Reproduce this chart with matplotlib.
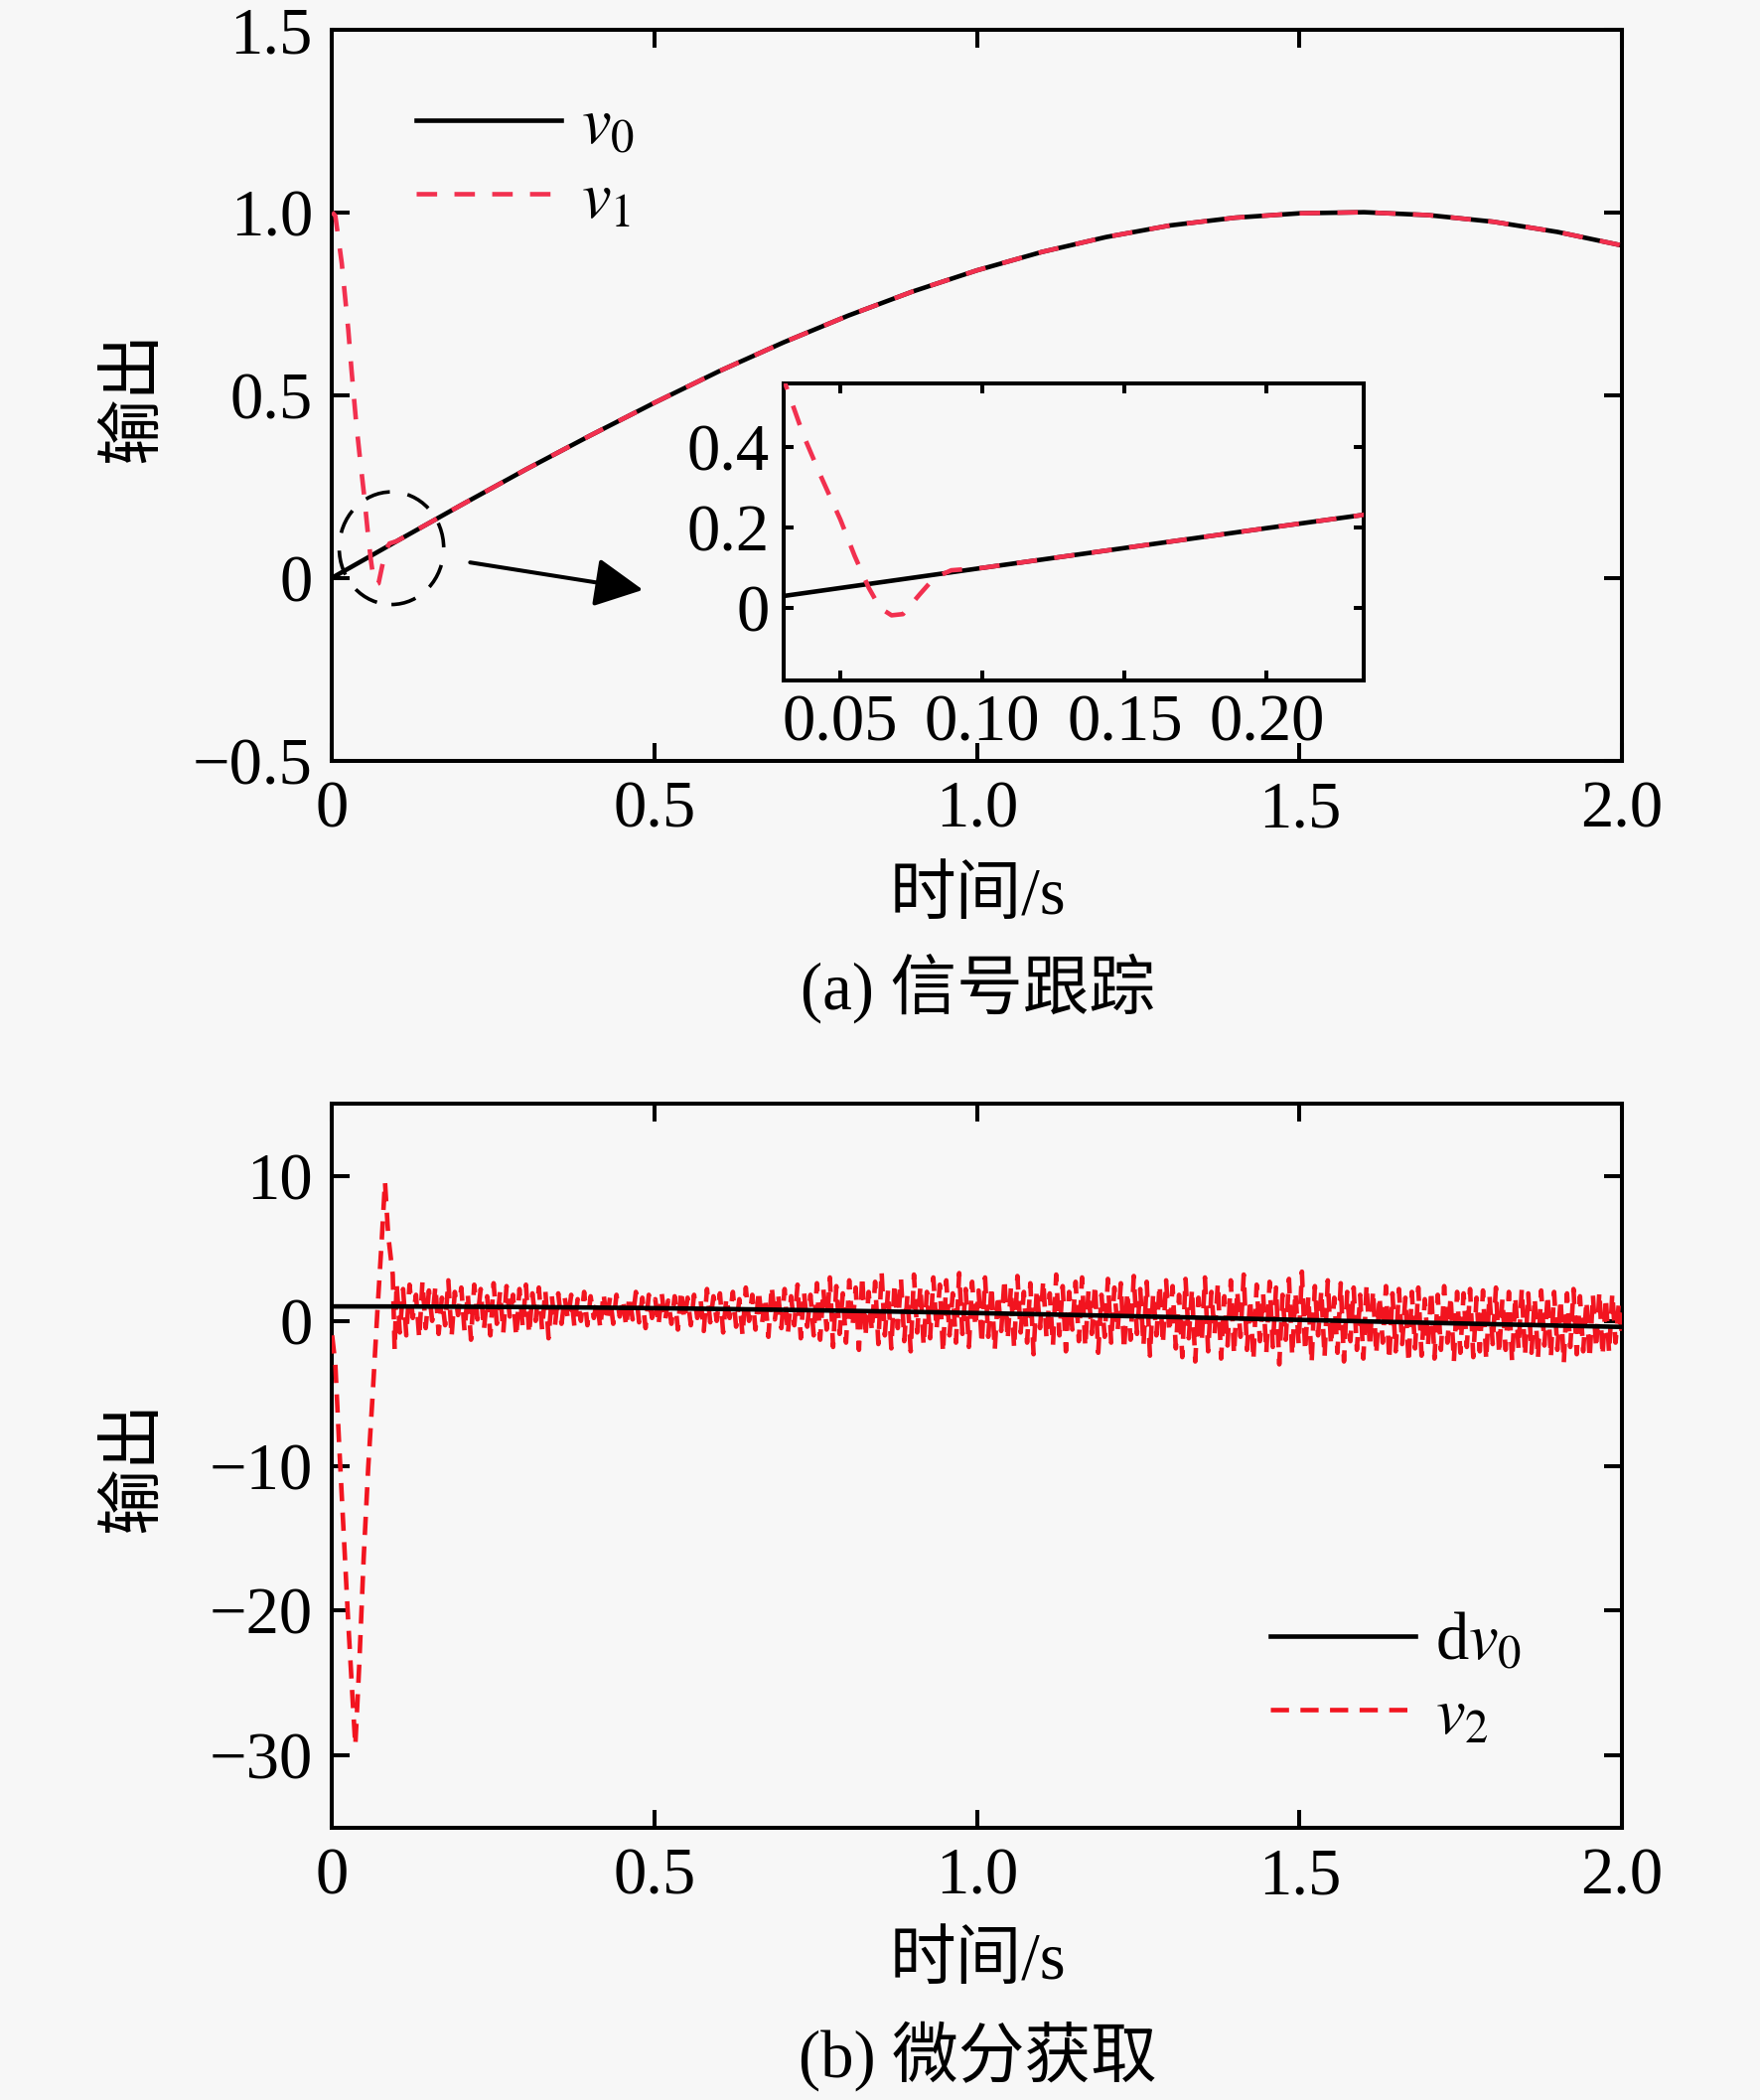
import numpy as np
import matplotlib.pyplot as plt
from matplotlib.patches import Ellipse

plt.rcParams['font.family'] = ['Liberation Serif', 'Noto Sans CJK SC']
plt.rcParams['mathtext.fontset'] = 'stix'
plt.rcParams['axes.unicode_minus'] = True

# ---- 数据 ----
t_ref = [0.0, 0.1, 0.2, 0.3, 0.4, 0.5, 0.6, 0.7, 0.8, 0.9, 1.0,
         1.1, 1.2, 1.3, 1.4, 1.5, 1.6, 1.7, 1.8, 1.9, 2.0]
v0 = [0.0, 0.10, 0.199, 0.296, 0.389, 0.479, 0.565, 0.644, 0.717, 0.783, 0.841,
      0.891, 0.932, 0.964, 0.985, 0.997, 1.0, 0.992, 0.974, 0.946, 0.909]
dv0 = [1.0, 0.995, 0.98, 0.955, 0.921, 0.878, 0.825, 0.765, 0.697, 0.622, 0.540,
       0.454, 0.362, 0.267, 0.170, 0.071, -0.029, -0.129, -0.227, -0.323, -0.416]

# v1 初始跟踪段, 0.1 s 之后与 v0 重合
t_v1_start = [0.0, 0.005, 0.015, 0.025, 0.03, 0.037, 0.043, 0.05, 0.055, 0.06,
              0.064, 0.068, 0.072, 0.078, 0.083, 0.089]
v1_start = [1.0, 0.99, 0.86, 0.68, 0.57, 0.43, 0.33, 0.22, 0.13, 0.05,
            0.0, -0.018, -0.015, 0.035, 0.075, 0.094]

# v2 初始段
t_v2_start = [0.0, 0.005, 0.011, 0.018, 0.025, 0.032, 0.036, 0.042, 0.049, 0.056,
              0.063, 0.07, 0.077, 0.082, 0.087, 0.094, 0.097]
v2_start = [-1.0, -3.0, -8.6, -14.7, -20.8, -26.3, -29.3, -23.8, -16.3, -10.1,
            -5.0, 0.5, 5.6, 9.6, 5.9, 3.2, -2.0]
# v2 噪声段 (0.1 s ~ 2.0 s)
v2_noise = [
    2.6, -0.8, 2.2, -1.0, 2.5, 0.2, 1.8, -1.2, 2.7, -0.5, 2.1, 0.0, 2.4, -0.9, 1.6, -0.3,
    2.8, -1.1, 2.0, 0.4, 2.3, -0.7, 1.9, -1.3, 2.5, 0.1, 2.2, -0.6, 1.7, -1.0, 2.6, -0.2,
    2.0, -0.8, 2.4, 0.3, 1.8, -1.1, 2.2, -0.4, 2.5, -0.9, 1.9, 0.0, 2.3, -0.6, 2.1, -1.2,
    1.7, -0.3,
    1.9, -0.2, 1.6, 0.1, 1.8, -0.4, 1.5, 0.0, 2.0, -0.3, 1.7, 0.2, 1.4, -0.5, 1.9, 0.0,
    1.6, -0.2, 1.8, 0.3, 1.5, -0.4, 1.7, 0.1, 2.0, -0.1, 1.6, -0.5, 1.8, 0.2, 1.5, -0.3,
    1.9, 0.0, 1.4, -0.2, 1.7, -0.6, 2.1, 0.1, 1.6, -0.3, 1.8, 0.2, 1.5, -0.7, 2.2, -0.1,
    1.7, 0.0, 1.9, -0.8, 1.6, 0.2, 2.0, -0.4, 1.5, -1.0, 2.3, 0.0, 1.8, -0.6, 2.1, -0.2,
    1.6, -1.1, 2.4, 0.1, 1.9, -0.5, 2.2, -0.9, 1.7, -0.3, 2.5, -1.2, 2.0, -0.4, 1.8, -1.0,
    2.6, -1.3, 2.2, -0.6, 3.0, -1.8, 2.4, -0.9, 1.9, -1.5, 2.8, -0.4, 2.3, -2.0, 3.1, -1.1,
    2.0, -0.7, 2.7, -1.6, 3.4, -1.0, 2.1, -1.9, 2.6, -0.5, 2.9, -1.4, 1.8, -2.1, 3.2, -0.8,
    2.4, -1.7, 2.0, -1.2, 3.0, -0.6, 2.5, -2.2, 2.8, -1.0, 1.9, -1.5, 3.3, -0.9, 2.2, -1.8,
    2.7, -0.4, 2.1, -1.6, 3.0, -1.1, 2.4, -2.0, 1.8, -0.7, 2.9, -1.3, 2.3, -1.9, 3.1, -0.8,
    2.0, -1.5, 2.6, -2.3, 2.2, -0.5, 2.8, -1.2, 1.9, -1.7, 3.2, -1.0, 2.4, -2.1, 2.0, -0.6,
    2.7, -1.4, 3.0, -1.8, 2.1, -0.9, 2.5, -2.2, 1.8, -1.1, 2.9, -1.5, 2.3, -0.7, 2.6, -2.0,
    2.0, -1.3, 3.1, -0.9, 2.2, -1.7, 2.7, -2.4, 1.9, -1.0, 2.5, -1.6, 2.8, -0.8,
    2.4, -1.9, 1.8, -2.5, 2.9, -1.2, 2.2, -2.8, 1.6, -1.5, 3.0, -2.1, 2.0, -0.9, 2.6, -2.6,
    1.7, -1.7, 2.8, -2.3, 2.1, -1.1, 3.2, -2.0, 1.5, -2.7, 2.5, -1.4, 1.9, -2.2, 2.7, -1.8,
    2.3, -3.0, 1.8, -1.3, 2.9, -2.4, 2.0, -1.6, 3.4, -2.1, 1.7, -2.9, 2.4, -1.0, 2.1, -2.5,
    2.8, -1.7, 1.6, -2.2, 2.6, -2.8, 2.0, -1.4, 2.3, -2.0, 1.8, -2.6, 2.5, -1.8, 2.1, -2.3,
    1.7, -1.5, 2.4, -2.7, 1.9, -2.1, 2.2, -1.6, 1.6, -2.9, 2.0, -1.9, 2.3, -2.4, 1.5, -1.7,
    2.1, -2.6, 1.8, -2.0, 2.4, -1.5, 1.7, -2.8, 2.0, -2.2, 1.9, -1.8, 2.2, -2.5, 1.6, -2.1,
    2.1, -2.7, 1.8, -1.6, 2.3, -2.3, 1.5, -2.0, 2.0, -2.8, 1.7, -1.9, 2.2, -2.4, 1.9, -2.2,
    1.6, -2.6, 2.1, -1.7, 1.8, -2.5, 2.0, -2.0, 1.5, -2.9, 1.9, -1.8, 2.2, -2.3, 1.7, -2.1,
    1.4, -2.6, 1.8, -1.9, 2.0, -2.4, 1.6, -2.2, 1.9, -1.5, 1.2, -1.0,
]

xticks = [0, 0.5, 1.0, 1.5, 2.0]
xtick_labels = ['0', '0.5', '1.0', '1.5', '2.0']
yticks_a = [-0.5, 0, 0.5, 1.0, 1.5]
ytick_labels_a = ['\u22120.5', '0', '0.5', '1.0', '1.5']
yticks_b = [-30, -20, -10, 0, 10]
ytick_labels_b = ['\u221230', '\u221220', '\u221210', '0', '10']
inset_xticks = [0.05, 0.10, 0.15, 0.20]
inset_xtick_labels = ['0.05', '0.10', '0.15', '0.20']
inset_yticks = [0, 0.2, 0.4]
inset_ytick_labels = ['0', '0.2', '0.4']

BG = '#f7f7f7'
RED_A = '#f2304f'
RED_B = '#f2141f'
FS = 48
LW = 2.9     # 坐标轴线宽
DLW = 3.3    # 曲线线宽


def style_axes(ax, length=13, pad=14):
    ax.set_facecolor(BG)
    ax.tick_params(direction='in', top=True, right=True, length=length,
                   width=LW, labelsize=FS, pad=pad)
    for s in ax.spines.values():
        s.set_linewidth(LW)


fig = plt.figure(figsize=(17.72, 21.14), dpi=100, facecolor=BG)

# ---- (a) 信号跟踪 ----
ax1 = fig.add_axes([0.1887, 0.6378, 0.7329, 0.3482])
style_axes(ax1)
t_v1 = t_v1_start + t_ref[1:]
v1 = v1_start + v0[1:]
ax1.plot(t_ref, v0, color='k', lw=DLW, label='$v_0$', zorder=3)
ax1.plot(t_v1, v1, color=RED_A, lw=DLW, dashes=(4.5, 3.8), label='$v_1$', zorder=4)
ax1.set_xlim(0, 2.0)
ax1.set_ylim(-0.5, 1.5)
ax1.set_xticks(xticks, xtick_labels)
ax1.set_yticks(yticks_a, ytick_labels_a)
ax1.legend(loc='center left', bbox_to_anchor=(0.065, 0.816), frameon=False,
           fontsize=FS, handlelength=2.2, handletextpad=0.3, labelspacing=0.2,
           borderpad=0, borderaxespad=0)

ell = Ellipse((0.092, 0.081), 0.162, 0.308, fill=False, ec='k', lw=2.6,
              ls=(0, (7, 5)), zorder=5)
ax1.add_patch(ell)
ax1.annotate('', xy=(0.482, -0.033), xytext=(0.214, 0.042),
             arrowprops=dict(arrowstyle='-|>,head_length=0.75,head_width=0.38',
                             mutation_scale=40, lw=2.9, color='k',
                             shrinkA=0, shrinkB=0))

# 局部放大图
axin = fig.add_axes([0.4452, 0.676, 0.3295, 0.1416])
style_axes(axin, length=7, pad=10)
axin.plot(t_ref, v0, color='k', lw=DLW, zorder=3)
axin.plot(t_v1, v1, color=RED_A, lw=DLW, dashes=(4.5, 3.8), zorder=4)
axin.set_xlim(0.03, 0.234)
axin.set_ylim(-0.18, 0.56)
axin.set_xticks(inset_xticks, inset_xtick_labels)
axin.set_yticks(inset_yticks, inset_ytick_labels)

fig.text(0.5556, 0.5727, '时间/s', fontsize=FS, ha='center', va='center')
fig.text(0.5556, 0.5293, '(a) 信号跟踪', fontsize=FS, ha='center', va='center')
fig.text(0.0761, 0.8112, '输出', fontsize=FS, ha='center', va='center', rotation=90)

# ---- (b) 微分获取 ----
ax2 = fig.add_axes([0.1887, 0.1295, 0.7329, 0.345])
style_axes(ax2)
t_v2 = t_v2_start + list(np.linspace(0.1, 2.0, len(v2_noise)))
v2 = v2_start + v2_noise
ax2.plot(t_ref, dv0, color='k', lw=DLW, label='d$v_0$', zorder=4)
ax2.plot(t_v2, v2, color=RED_B, lw=DLW, dashes=(4.0, 2.5), label='$v_2$', zorder=3)
ax2.set_xlim(0, 2.0)
ax2.set_ylim(-35, 15)
ax2.set_xticks(xticks, xtick_labels)
ax2.set_yticks(yticks_b, ytick_labels_b)
ax2.legend(loc='center left', bbox_to_anchor=(0.727, 0.205), frameon=False,
           fontsize=FS, handlelength=2.2, handletextpad=0.3, labelspacing=0.2,
           borderpad=0, borderaxespad=0)

fig.text(0.5556, 0.0657, '时间/s', fontsize=FS, ha='center', va='center')
fig.text(0.5556, 0.021, '(b) 微分获取', fontsize=FS, ha='center', va='center')
fig.text(0.0761, 0.3017, '输出', fontsize=FS, ha='center', va='center', rotation=90)

fig.savefig('out.png', dpi=100, facecolor=BG)
